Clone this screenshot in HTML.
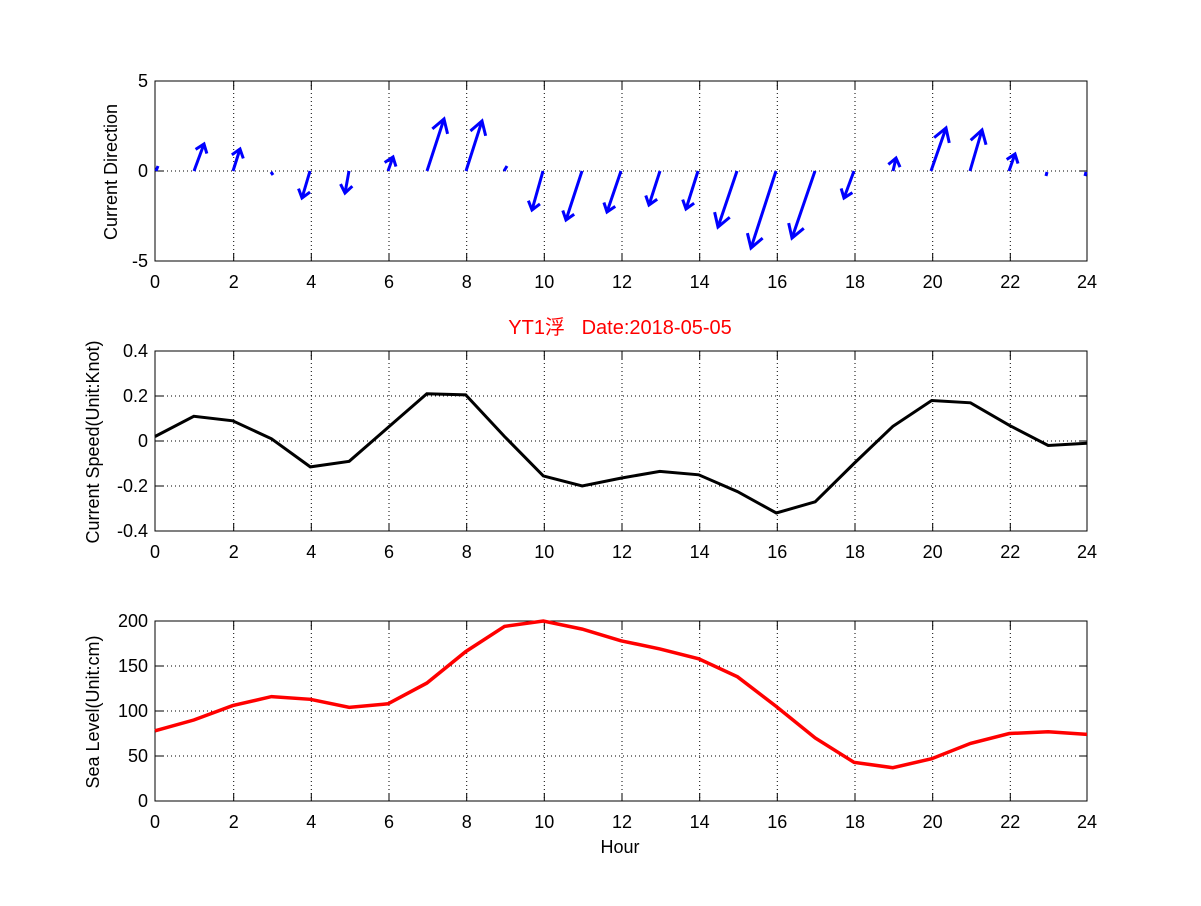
<!DOCTYPE html>
<html><head><meta charset="utf-8"><style>
html,body{margin:0;padding:0;background:#fff;}
svg text{font-family:"Liberation Sans","Noto Sans CJK SC",sans-serif;}
</style></head><body>
<svg width="1201" height="901" xmlns="http://www.w3.org/2000/svg">
<defs>
<marker id="ah" markerUnits="userSpaceOnUse" markerWidth="20" markerHeight="20" refX="10" refY="10" orient="auto">
<path d="M2,4 L10,10 L2,16" fill="none" stroke="#0000ff" stroke-width="3"/>
</marker>
<marker id="ahb" markerUnits="userSpaceOnUse" markerWidth="30" markerHeight="30" refX="15" refY="15" orient="auto">
<path d="M2,7 L15,15 L2,23" fill="none" stroke="#0000ff" stroke-width="3"/>
</marker>
</defs>
<rect width="1201" height="901" fill="#fff"/>
<g stroke="#000" stroke-width="1" stroke-dasharray="1,3" fill="none">
<path d="M233.7,81V261M311.3,81V261M389,81V261M466.7,81V261M544.3,81V261M622,81V261M699.7,81V261M777.3,81V261M855,81V261M932.7,81V261M1010.3,81V261 M155,171H1087"/>
<path d="M233.7,351V531M311.3,351V531M389,351V531M466.7,351V531M544.3,351V531M622,351V531M699.7,351V531M777.3,351V531M855,351V531M932.7,351V531M1010.3,351V531 M155,396H1087M155,441H1087M155,486H1087"/>
<path d="M233.7,621V801M311.3,621V801M389,621V801M466.7,621V801M544.3,621V801M622,621V801M699.7,621V801M777.3,621V801M855,621V801M932.7,621V801M1010.3,621V801 M155,666H1087M155,711H1087M155,756H1087"/>
</g>
<g stroke="#000" stroke-width="1" fill="none">
<rect x="155" y="81" width="932" height="180"/>
<rect x="155" y="351" width="932" height="180"/>
<rect x="155" y="621" width="932" height="180"/>
<path d="M155,171h8M1087,171h-8 M155,396h8M1087,396h-8M155,441h8M1087,441h-8M155,486h8M1087,486h-8 M155,666h8M1087,666h-8M155,711h8M1087,711h-8M155,756h8M1087,756h-8"/>
<path d="M233.7,261v-8M311.3,261v-8M389,261v-8M466.7,261v-8M544.3,261v-8M622,261v-8M699.7,261v-8M777.3,261v-8M855,261v-8M932.7,261v-8M1010.3,261v-8 M233.7,81v8M311.3,81v8M389,81v8M466.7,81v8M544.3,81v8M622,81v8M699.7,81v8M777.3,81v8M855,81v8M932.7,81v8M1010.3,81v8"/>
<path d="M233.7,531v-8M311.3,531v-8M389,531v-8M466.7,531v-8M544.3,531v-8M622,531v-8M699.7,531v-8M777.3,531v-8M855,531v-8M932.7,531v-8M1010.3,531v-8 M233.7,351v8M311.3,351v8M389,351v8M466.7,351v8M544.3,351v8M622,351v8M699.7,351v8M777.3,351v8M855,351v8M932.7,351v8M1010.3,351v8"/>
<path d="M233.7,801v-8M311.3,801v-8M389,801v-8M466.7,801v-8M544.3,801v-8M622,801v-8M699.7,801v-8M777.3,801v-8M855,801v-8M932.7,801v-8M1010.3,801v-8 M233.7,621v8M311.3,621v8M389,621v8M466.7,621v8M544.3,621v8M622,621v8M699.7,621v8M777.3,621v8M855,621v8M932.7,621v8M1010.3,621v8"/>
</g>
<g stroke="#0000ff" stroke-width="3" fill="none" marker-end="url(#ah)">
<path d="M194,171L204,144"/><path d="M233,171L240,149"/><path d="M310,171L302,198"/>
<path d="M349,171L345,193"/><path d="M388,171L393,157"/>
<path d="M543,171L532,210"/><path d="M582,171L566,220"/>
<path d="M621,171L607,212"/><path d="M660,171L649,205"/><path d="M698,171L686,209"/>
<path d="M854,171L844,198"/><path d="M893,171L896,158"/>
<path d="M1009,171L1015,154"/>
</g>
<g stroke="#0000ff" stroke-width="3" fill="none" marker-end="url(#ahb)">
<path d="M427,171L444,119"/><path d="M466,171L482,121"/>
<path d="M737,171L718,227"/><path d="M776,171L751,248"/><path d="M815,171L792,238"/>
<path d="M931,171L946,128"/><path d="M970,171L982,130"/>
</g>
<g stroke="#0000ff" stroke-width="3">
<path d="M156,171L158,166M271,172L273,175M504,171L507,166M1047,172L1046,176M1086,172L1085,176"/>
</g>
<polyline fill="none" stroke="#000" stroke-width="3" points="155,436.5 193.8,416.3 232.7,420.8 271.5,438.8 310.3,466.9 349.2,461.3 388,427.5 426.8,393.8 465.7,394.9 504.5,436.5 543.3,475.9 582.2,486 621,478.1 659.8,471.4 698.7,474.8 737.5,491.6 776.3,513 815.2,501.8 854,463.5 892.8,426.4 931.7,400.5 970.5,402.8 1009.3,425.3 1048.2,445.5 1087,443.3"/>
<polyline fill="none" stroke="#ff0000" stroke-width="3.5" points="155,730.8 193.8,720 232.7,705.6 271.5,696.6 310.3,699.3 349.2,707.4 388,703.8 426.8,683.1 465.7,651.6 504.5,626.4 543.3,621 582.2,629.1 621,640.8 659.8,648.9 698.7,658.8 737.5,676.8 776.3,706.5 815.2,738 854,762.3 892.8,767.7 931.7,758.7 970.5,743.4 1009.3,733.5 1048.2,731.7 1087,734.4"/>
<g font-size="18" fill="#000" text-anchor="middle">
<g transform="translate(0,288)"><text x="155">0</text><text x="233.7">2</text><text x="311.3">4</text><text x="389">6</text><text x="466.7">8</text><text x="544.3">10</text><text x="622">12</text><text x="699.7">14</text><text x="777.3">16</text><text x="855">18</text><text x="932.7">20</text><text x="1010.3">22</text><text x="1087">24</text></g>
<g transform="translate(0,558)"><text x="155">0</text><text x="233.7">2</text><text x="311.3">4</text><text x="389">6</text><text x="466.7">8</text><text x="544.3">10</text><text x="622">12</text><text x="699.7">14</text><text x="777.3">16</text><text x="855">18</text><text x="932.7">20</text><text x="1010.3">22</text><text x="1087">24</text></g>
<g transform="translate(0,828)"><text x="155">0</text><text x="233.7">2</text><text x="311.3">4</text><text x="389">6</text><text x="466.7">8</text><text x="544.3">10</text><text x="622">12</text><text x="699.7">14</text><text x="777.3">16</text><text x="855">18</text><text x="932.7">20</text><text x="1010.3">22</text><text x="1087">24</text></g>
</g>
<g font-size="18" fill="#000" text-anchor="end">
<text x="148" y="87">5</text><text x="148" y="177">0</text><text x="148" y="267">-5</text>
<text x="148" y="357">0.4</text><text x="148" y="402">0.2</text><text x="148" y="447">0</text><text x="148" y="492">-0.2</text><text x="148" y="537">-0.4</text>
<text x="148" y="627">200</text><text x="148" y="672">150</text><text x="148" y="717">100</text><text x="148" y="762">50</text><text x="148" y="807">0</text>
</g>
<g font-size="18" fill="#000" text-anchor="middle">
<text transform="translate(117,172) rotate(-90)">Current Direction</text>
<text transform="translate(99,442) rotate(-90)">Current Speed(Unit:Knot)</text>
<text transform="translate(99,712) rotate(-90)">Sea Level(Unit:cm)</text>
<text x="620" y="853">Hour</text>
</g>
<text x="620" y="334" font-size="20" fill="#ff0000" text-anchor="middle" xml:space="preserve">YT1浮   Date:2018-05-05</text>
</svg>
</body></html>
